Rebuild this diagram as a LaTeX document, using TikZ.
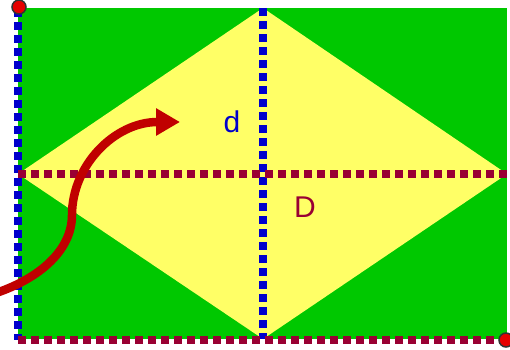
\documentclass[tikz,border=0pt]{standalone}
\usepackage{fontspec}
\setmainfont{Liberation Sans}
\usetikzlibrary{arrows.meta}
\definecolor{fieldgreen}{RGB}{0,200,0}
\definecolor{diamondyellow}{RGB}{255,255,102}
\definecolor{dblue}{RGB}{0,0,204}
\definecolor{dmaroon}{RGB}{153,0,51}
\definecolor{arrowred}{RGB}{192,0,0}
\definecolor{dotred}{RGB}{230,0,0}
\tikzset{
  bluedots/.style={draw=dblue,line width=7.5pt,dash pattern=on 8pt off 5pt},
  maroondots/.style={draw=dmaroon,line width=7.5pt,dash pattern=on 8pt off 5pt},
  cornerdot/.style={circle,fill=dotred,draw=black!80,line width=1.5pt,minimum size=14pt,inner sep=0pt},
  lbl/.style={font=\fontsize{30}{36}\selectfont,inner sep=0pt},
  bigarrow/.style={draw=arrowred,line width=8.5pt,-{Triangle[length=24pt,width=26pt]}}
}
\begin{document}
\begin{tikzpicture}[x=1pt,y=-1pt]
\useasboundingbox[fill=white] (0,0) rectangle (510,349);
\coordinate (tl) at (18,8);
\coordinate (br) at (507,339);
\coordinate (top) at (263,8);
\coordinate (bot) at (263,339);
\coordinate (lft) at (18,174);
\coordinate (rgt) at (507,174);
\fill[fieldgreen] (tl) rectangle (br);
\fill[diamondyellow] (top) -- (rgt) -- (bot) -- (lft) -- cycle;
\draw[bluedots] (18,9) -- (18,340);
\draw[bluedots] (top) -- (bot);
\draw[maroondots] (lft) -- (rgt);
\draw[maroondots] (18,340) -- (506,340);
\node[cornerdot] (c1) at (19,7) {};
\node[cornerdot] (c2) at (506,340) {};
\node[lbl,text=dblue] (d) at (232,122) {d};
\node[lbl,text=dmaroon] (D) at (305,207) {D};
\coordinate (as) at (-4,293);
\coordinate (ae) at (180,122);
\draw[bigarrow] (as) .. controls (40,278) and (72,250) .. (72,215)
  .. controls (72,165) and (115,122) .. (ae);
\end{tikzpicture}
\end{document}
